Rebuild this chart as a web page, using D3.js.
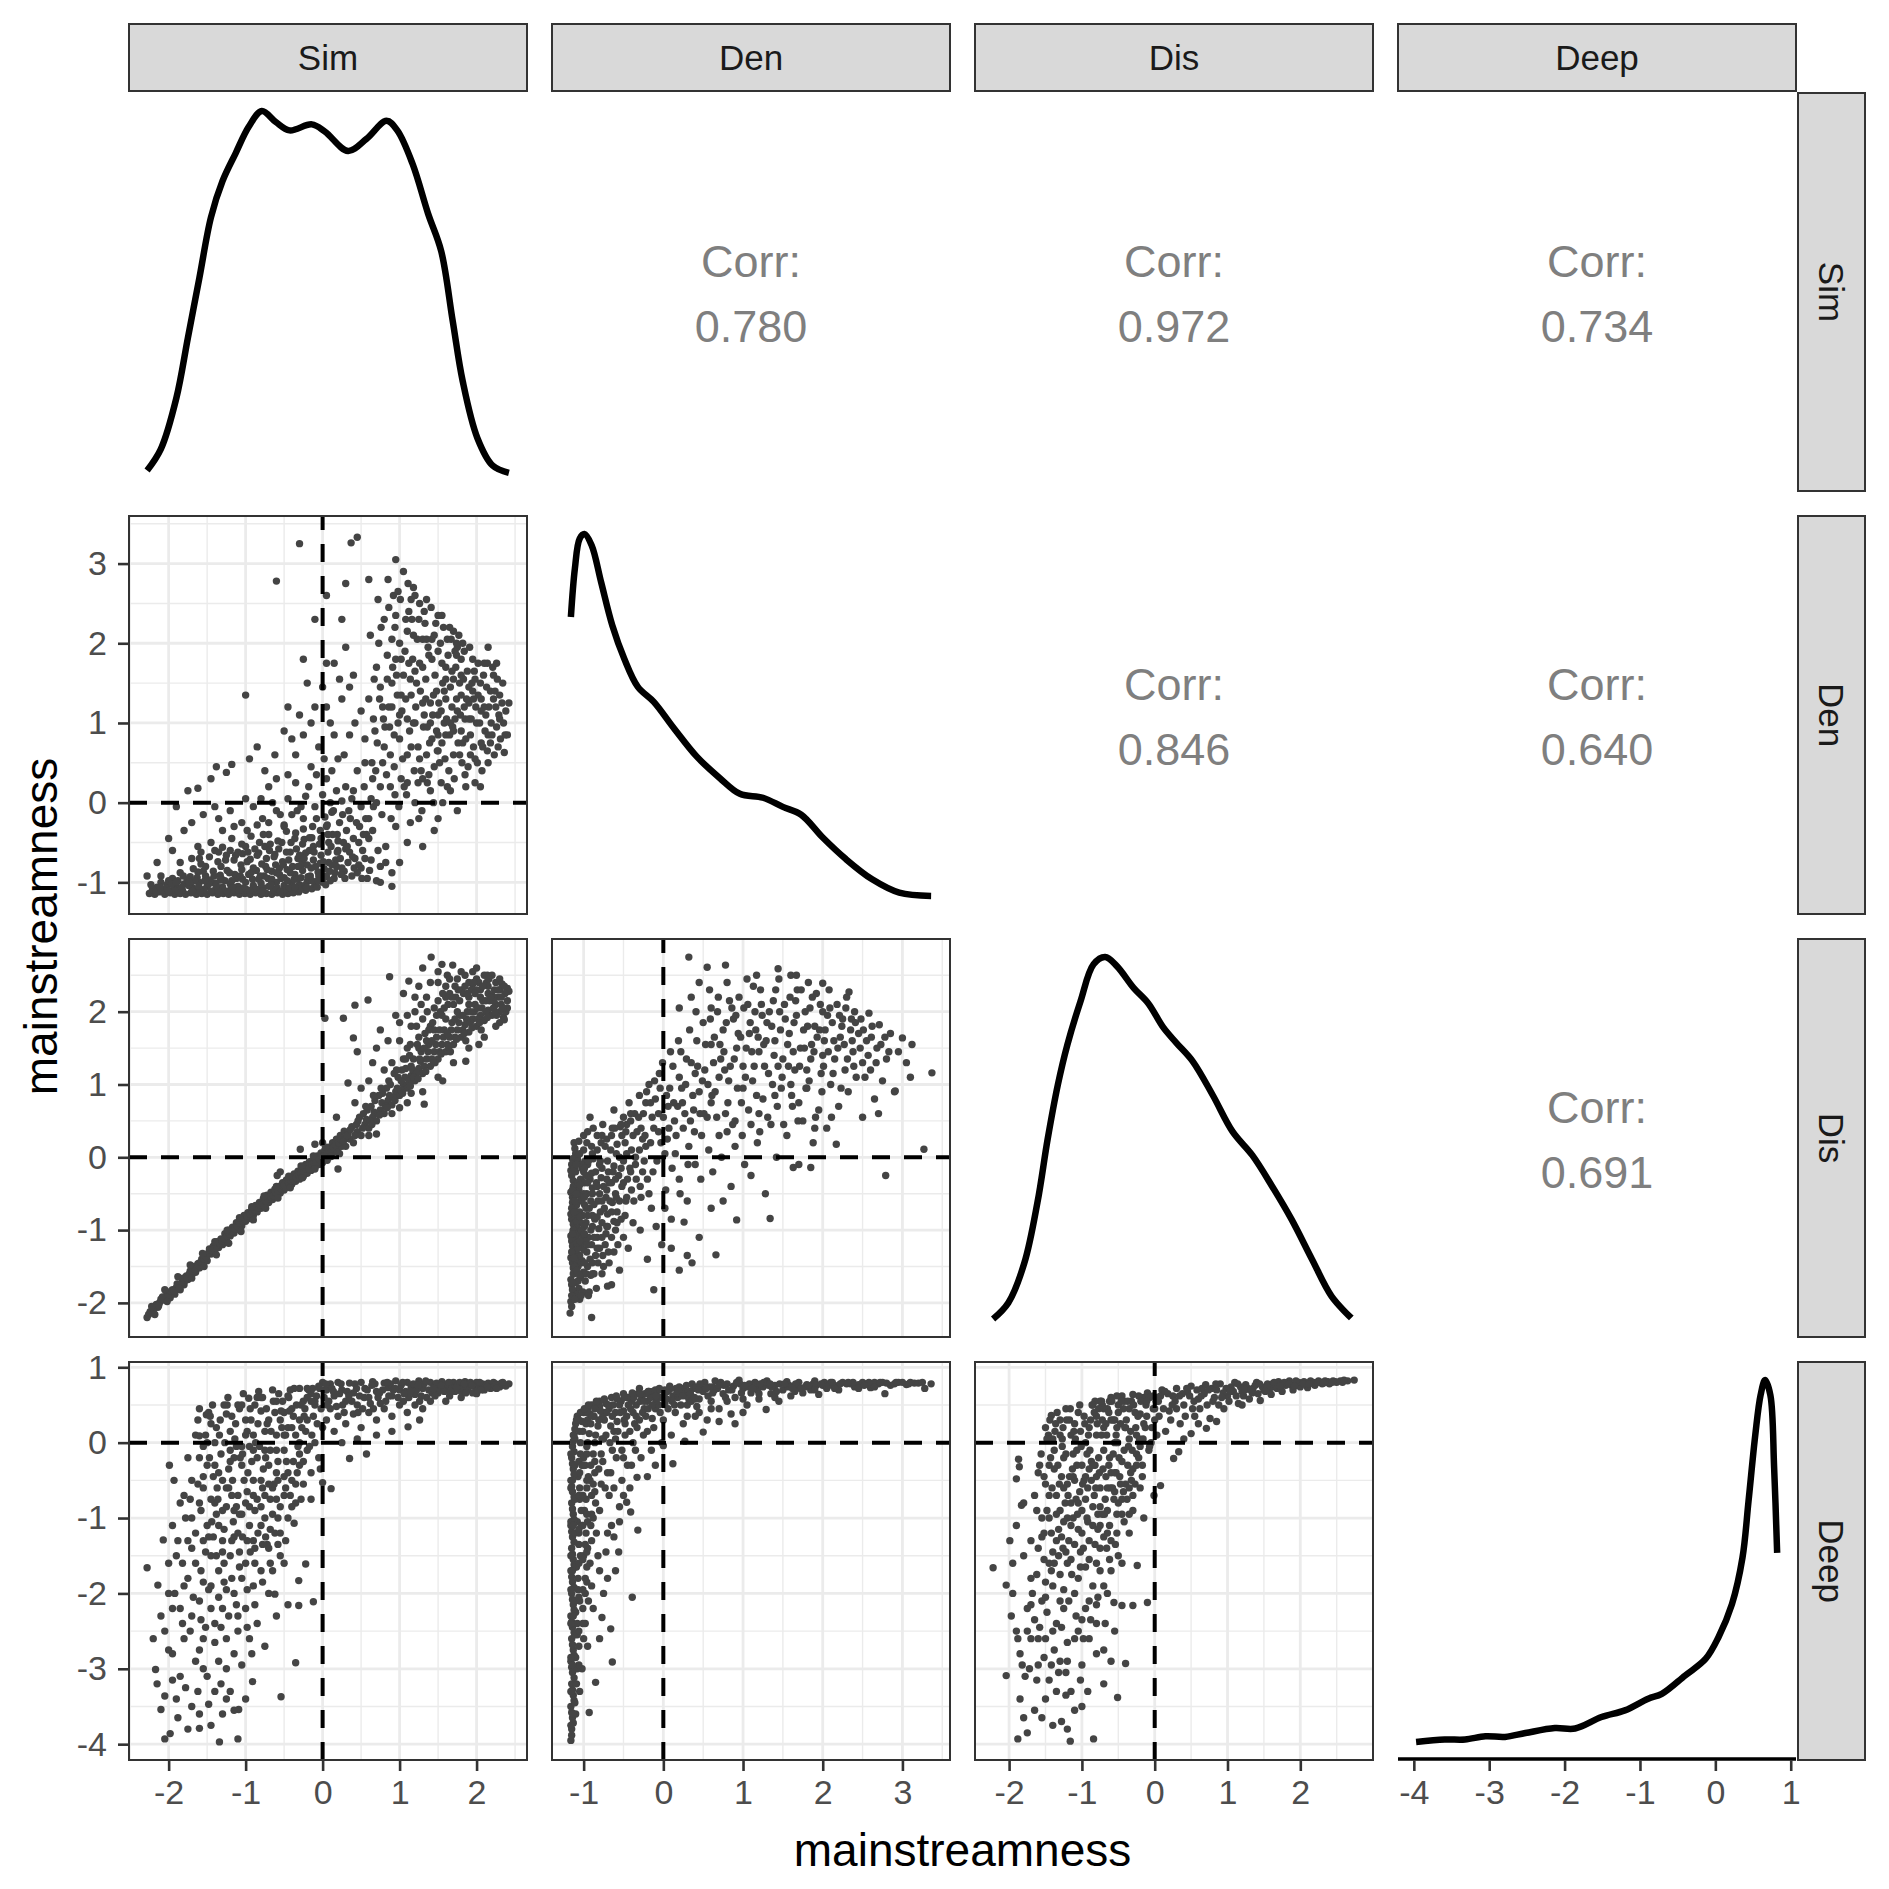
<!DOCTYPE html>
<html>
<head>
<meta charset="utf-8">
<script src="https://cdn.jsdelivr.net/npm/d3@7"></script>
<style>
body { margin: 0; background: #fff; }
</style>
</head>
<body>
<script>
// variables of the pairs matrix
var vars = ["Sim", "Den", "Dis", "Deep"];

// upper triangle: row, column, correlation
var corrRow = [0, 0, 0, 1, 1, 2];
var corrCol = [1, 2, 3, 2, 3, 3];
var corrVal = [0.780, 0.972, 0.734, 0.846, 0.640, 0.691];

// diagonal densities, [value, density]
var densSim = [[-2.28,0.004],[-2.10,0.022],[-1.90,0.064],[-1.75,0.114],[-1.60,0.164],[-1.45,0.214],[-1.30,0.244],[-1.13,0.267],[-0.96,0.289],[-0.79,0.302],[-0.61,0.293],[-0.43,0.286],[-0.14,0.291],[0.03,0.285],[0.33,0.269],[0.57,0.279],[0.83,0.294],[0.97,0.286],[1.17,0.258],[1.37,0.217],[1.54,0.186],[1.69,0.128],[1.82,0.078],[2.01,0.031],[2.21,0.008],[2.42,0.002]];
var densDen = [[-1.16,0.432],[-1.11,0.506],[-1.05,0.552],[-0.99,0.559],[-0.90,0.542],[-0.78,0.485],[-0.64,0.419],[-0.49,0.368],[-0.32,0.325],[-0.12,0.302],[0.13,0.262],[0.42,0.218],[0.71,0.185],[0.96,0.161],[1.25,0.155],[1.50,0.141],[1.73,0.129],[2.00,0.094],[2.29,0.061],[2.62,0.030],[2.96,0.0096],[3.36,0.0046]];
var densDis = [[-2.22,0.004],[-2.01,0.022],[-1.79,0.066],[-1.61,0.133],[-1.47,0.203],[-1.33,0.263],[-1.20,0.307],[-1.02,0.355],[-0.84,0.396],[-0.68,0.404],[-0.52,0.394],[-0.29,0.370],[-0.09,0.353],[0.12,0.326],[0.30,0.309],[0.52,0.289],[0.80,0.251],[1.07,0.211],[1.34,0.185],[1.61,0.151],[1.88,0.114],[2.16,0.070],[2.43,0.029],[2.70,0.005]];
var densDeep = [[-3.97,0.014],[-3.59,0.024],[-3.32,0.024],[-3.05,0.0375],[-2.79,0.035],[-2.52,0.051],[-2.13,0.072],[-1.86,0.070],[-1.51,0.118],[-1.20,0.146],[-0.89,0.195],[-0.71,0.215],[-0.40,0.292],[-0.13,0.361],[0.04,0.451],[0.22,0.590],[0.36,0.785],[0.44,1.021],[0.53,1.299],[0.60,1.465],[0.66,1.528],[0.73,1.465],[0.78,1.160],[0.82,0.805]];

// scatter panels, "x y" pairs (x = column variable, y = row variable)
var simDen = `-2.28 -0.92, -2.25 -1.14, -2.18 -1.15, -2.12 -1.12, -2.05 -1.15, -1.98 -1.13, -1.92 -1.15, -1.85 -1.14, -1.78 -1.15, -1.71 -1.13, -1.64 -1.15, -1.57 -1.14, -1.5 -1.15, -1.43 -1.13, -1.36 -1.15, -1.29 -1.14, -1.22 -1.15, -1.15 -1.13, -1.08 -1.15, -1.01 -1.14, -0.94 -1.15, -0.87 -1.13, -0.8 -1.15, -0.73 -1.14, -0.66 -1.15, -0.59 -1.13, -0.52 -1.15, -0.45 -1.14, -0.38 -1.13, -0.31 -1.12, -0.22 -1.1, -0.14 -1.08,
-2.15 -1.06, -2.02 -1.03, -1.9 -1.07, -1.8 -1.02, -1.7 -1.06, -1.6 -1.0, -1.5 -1.05, -1.4 -1.01, -1.3 -1.06, -1.2 -1.02, -1.1 -1.05, -1.0 -1.0, -0.9 -1.04, -0.8 -1.01, -0.7 -1.05, -0.6 -1.0, -0.5 -1.04, -0.4 -1.01, -0.3 -1.03, -0.2 -0.99, -0.1 -1.02, 0.0 -1.0,
-2.1 -0.92, -1.95 -0.95, -1.85 -0.88, -1.72 -0.93, -1.62 -0.87, -1.52 -0.92, -1.42 -0.86, -1.33 -0.91, -1.24 -0.85, -1.14 -0.9, -1.05 -0.84, -0.96 -0.9, -0.86 -0.85, -0.76 -0.92, -0.66 -0.86, -0.56 -0.9, -0.46 -0.84, -0.36 -0.9, -0.26 -0.85, -0.16 -0.92, -0.06 -0.87, 0.05 -0.93, 0.15 -0.95,
-1.85 -0.75, -1.7 -0.7, -1.58 -0.77, -1.47 -0.68, -1.36 -0.74, -1.25 -0.66, -1.15 -0.72, -1.04 -0.64, -0.94 -0.71, -0.83 -0.63, -0.73 -0.7, -0.62 -0.65, -0.52 -0.74, -0.42 -0.62, -0.32 -0.7, -0.22 -0.63, -0.12 -0.72, -0.02 -0.66, 0.08 -0.75, 0.18 -0.8, 0.28 -0.86, 0.38 -0.92,
-1.62 -0.55, -1.45 -0.5, -1.3 -0.56, -1.18 -0.45, -1.05 -0.52, -0.93 -0.42, -0.82 -0.5, -0.7 -0.4, -0.58 -0.48, -0.47 -0.36, -0.36 -0.45, -0.25 -0.33, -0.14 -0.44, -0.03 -0.35, 0.08 -0.5, 0.19 -0.4, 0.3 -0.58, 0.42 -0.7, 0.5 -0.82, 0.58 -0.95, 0.7 -0.98,
-1.55 -0.15, -1.35 -0.2, -1.2 -0.1, -1.05 -0.25, -0.9 -0.05, -0.78 -0.2, -0.65 0.0, -0.55 -0.15, -0.45 0.05, -0.33 -0.1, -0.22 0.08, -0.1 -0.05, 0.0 0.1, 0.12 -0.12, 0.25 0.02, 0.36 -0.2, 0.48 -0.3, 0.6 -0.45, 0.72 -0.6, 0.82 -0.75, 0.9 -0.88,
-1.9 -0.05, -1.75 0.15, -1.62 0.18, -1.45 0.3, -1.38 0.45, -1.25 0.38, -1.18 0.48, -1.0 1.35, -2.0 -0.45, -2.15 -0.75, -1.95 -0.6, -1.8 -0.35, -0.95 0.55, -0.85 0.7, -0.75 0.4, -0.62 0.6,
-0.45 0.35, -0.35 0.6, -0.25 0.85, -0.15 0.45, -0.05 0.7, 0.05 0.3, 0.1 1.0, 0.2 0.55, 0.25 1.3, 0.3 0.2, 0.35 0.85, 0.4 1.6, 0.45 0.4, 0.5 1.15, 0.5 -0.05, -0.1 1.2, -0.2 1.5, 0.0 1.45, 0.15 1.75, 0.3 1.95, -0.3 1.1, -0.5 0.9, 0.05 -0.3, 0.2 -0.6,
0.55 0.5, 0.6 1.3, 0.62 2.1, 0.65 -0.35, 0.68 0.9, 0.7 1.7, 0.72 2.55, 0.75 0.2, 0.78 1.2, 0.8 2.3, 0.82 -0.55, 0.85 2.8, 0.6 2.8, 0.55 -0.7, 0.75 -0.8,
0.88 0.6, 0.9 1.5, 0.92 2.6, 0.95 -0.3, 0.98 1.0, 1.0 2.0, 1.02 0.3, 1.05 2.9, 1.08 1.3, 1.1 -0.5, 1.12 2.4, 1.15 0.7, 1.17 1.8, 1.2 0.0, 0.95 3.05, 1.0 -0.75, 1.18 2.7, 1.1 1.05,
1.22 1.5, 1.25 2.3, 1.28 0.4, 1.3 -0.55, 1.32 1.1, 1.35 2.55, 1.38 1.85, 1.4 0.15, 1.42 0.8, 1.45 2.1, 1.48 1.4, 1.5 -0.2, 1.52 0.5, 1.55 2.35, 1.58 1.0, 1.6 1.7, 1.25 -0.2, 1.45 -0.35,
1.62 0.2, 1.65 2.2, 1.68 1.2, 1.7 0.6, 1.72 1.9, 1.75 -0.1, 1.78 1.5, 1.8 0.9, 1.82 2.0, 1.85 0.35, 1.88 1.65, 1.9 1.25, 1.92 0.6, 1.95 1.8, 1.98 0.25, 2.0 1.0, 1.7 2.15, 1.85 1.05,
2.05 1.5, 2.08 0.7, 2.1 1.75, 2.12 1.1, 2.15 0.5, 2.18 1.4, 2.2 0.85, 2.22 1.6, 2.25 1.2, 2.28 0.7, 2.3 1.35, 2.35 1.0, 2.42 1.25, 2.36 0.63, 2.05 0.2, 2.15 1.95,
0.9 1.2, 1.0 0.8, 1.05 1.6, 1.15 1.35, 1.2 1.0, 1.3 1.7, 1.35 0.6, 1.4 1.25, 1.5 1.9, 1.55 0.75, 1.6 1.3, 1.65 0.85, 1.75 1.15, 1.8 1.8, 1.5 1.1, 1.3 2.05, 1.1 2.15, 0.95 1.8, 1.7 1.55, 1.45 0.45,
-0.3 3.25, 0.45 3.33, 0.37 3.26, -0.6 2.78, 0.05 2.6, 0.3 2.75, 0.25 2.3, -0.25 1.8, -0.1 2.3, -0.45 1.2, 0.75 -1.0, 0.9 -1.05,
-2.21 -1.09, -2.07 -1.1, -1.94 -1.09, -1.82 -1.1, -1.76 -0.97, -1.67 -1.1, -1.63 -0.94, -1.54 -1.09, -1.46 -0.97, -1.39 -1.09, -1.32 -0.8, -1.27 -0.98, -1.19 -1.09, -1.12 -0.95, -1.06 -0.78, -0.99 -1.09, -0.97 -0.62, -0.91 -0.96, -0.84 -1.09, -0.79 -0.77, -0.75 -0.55, -0.71 -0.95, -0.64 -1.09, -0.61 -0.78, -0.57 -0.58, -0.54 -0.95, -0.49 -1.09, -0.44 -0.72, -0.41 -0.5, -0.37 -0.96, -0.34 -0.58, -0.29 -1.09, -0.27 -0.77, -0.24 -0.46, -0.19 -0.93, -0.17 -0.6, -0.13 -0.3, -0.09 -0.8, -0.07 -1.06, -0.04 -0.52, 0.02 -0.83, 0.03 -0.18, 0.07 -0.62, 0.1 -0.98, 0.13 -0.4, 0.17 -0.72, 0.22 -0.25, 0.24 -0.9, 0.27 -0.5, 0.33 -0.75, 0.34 -0.1, 0.4 -0.45, 0.45 -0.88, 0.52 -0.6, 0.56 -0.2, 0.63 -0.72, 0.66 -0.05, -1.68 -0.83, -1.52 -0.8, -1.4 -0.6, -1.1 -0.62, -0.88 -0.58, -2.0 -0.98, -1.88 -0.98, -2.1 -1.0, -1.58 -0.62, -1.2 -0.6, -0.68 -0.52,
-1.3 -0.35, -1.15 -0.3, -0.98 -0.35, -0.85 -0.28, -0.7 -0.25, -0.6 -0.1, -0.5 -0.28, -0.4 -0.15, -0.28 -0.05, -0.18 0.2, -0.08 0.35, 0.02 0.55, 0.12 0.4, 0.18 0.15, 0.28 0.6, 0.4 0.15, 0.42 1.0, 0.55 0.8, 0.65 0.3, 0.6 -0.2, -0.35 0.25, -0.6 0.3, -0.4 0.8, -0.15 1.0, 0.05 1.2, 0.15 0.85, 0.35 1.45, 0.22 1.55, 0.05 1.75, -0.7 0.2, -1.0 0.05, -1.4 -0.05, -1.7 -0.25, -0.8 0.05,
0.63 0.05, 0.67 1.55, 0.71 0.75, 0.73 2.0, 0.77 -0.15, 0.79 1.05, 0.83 0.35, 0.84 1.85, 0.86 2.45, 0.87 0.95, 0.89 -0.2, 0.91 1.7, 0.93 0.45, 0.94 2.2, 0.97 1.35, 0.99 -0.05, 1.01 2.55, 1.03 1.15, 1.04 0.55, 1.07 1.9, 1.09 0.1, 1.11 2.75, 1.13 0.9, 1.14 1.55, 1.16 2.3, 1.19 0.4, 1.21 1.2, 1.23 2.05, 1.24 0.7, 1.26 2.5, 1.27 1.4, 1.29 -0.1, 1.31 0.95, 1.33 2.25, 1.34 1.55, 1.36 0.25, 1.37 1.95, 1.39 0.75, 1.41 2.45, 1.43 1.1, 1.44 0.0, 1.46 1.6, 1.47 2.25, 1.49 0.65, 1.51 1.25, 1.53 2.0, 1.54 0.25, 1.56 1.5, 1.57 2.2, 1.59 0.55, 1.61 1.05, 1.63 1.85, 1.64 0.4, 1.66 1.45, 1.67 2.05, 1.69 0.95, 1.71 0.3, 1.73 1.7, 1.74 1.3, 1.76 0.75, 1.77 2.1, 1.79 1.1, 1.81 0.5, 1.83 1.55, 1.84 1.9, 1.86 0.8, 1.87 1.3, 1.89 0.45, 1.91 1.95, 1.93 1.05, 1.94 1.5, 1.96 0.7, 1.97 1.65, 1.99 1.2, 2.01 0.5, 2.02 1.75, 2.04 1.0, 2.06 1.3, 2.07 0.4, 2.09 1.6, 2.11 0.9, 2.13 1.45, 2.14 0.65, 2.16 1.2, 2.19 1.0, 2.21 1.7, 2.23 0.6, 2.24 1.4, 2.26 0.95, 2.27 1.55, 2.29 1.1, 2.31 0.8, 2.33 1.25, 2.38 1.15, 2.4 0.85, 1.0 1.1, 1.2 1.65, 1.4 1.0, 1.6 1.55, 1.8 1.35, 0.8 0.7, 1.1 0.6, 1.3 0.3, 1.5 0.85, 1.7 0.9, 0.75 1.45, 0.95 2.35, 1.15 2.55, 1.35 2.05, 1.55 1.75, 1.75 1.95, 1.95 1.4, 2.15 0.85,
-2.16 -1.12, -2.03 -1.07, -1.96 -1.02, -1.87 -1.11, -1.81 -0.92, -1.74 -1.04, -1.66 -0.98, -1.59 -1.11, -1.55 -0.86, -1.48 -1.02, -1.41 -0.92, -1.35 -1.11, -1.31 -0.96, -1.26 -0.72, -1.21 -0.88, -1.16 -1.06, -1.13 -0.66, -1.07 -0.92, -1.03 -1.07, -0.98 -0.74, -0.93 -0.88, -0.89 -1.07, -0.85 -0.66, -0.81 -0.92, -0.77 -1.07, -0.74 -0.8, -0.69 -0.6, -0.66 -0.96, -0.63 -0.68, -0.59 -1.07, -0.56 -0.82, -0.53 -0.5, -0.5 -0.94, -0.47 -0.62, -0.43 -1.07, -0.39 -0.8, -0.35 -0.38, -0.33 -0.96, -0.3 -0.66, -0.26 -0.52, -0.23 -1.04, -0.2 -0.78, -0.17 -0.44, -0.14 -0.98, -0.11 -0.62, -0.08 -0.2, -0.05 -0.92, -0.02 -0.45, 0.01 -0.74, 0.04 -1.03, 0.06 -0.28, 0.09 -0.86, 0.11 -0.55, 0.14 -0.1, 0.16 -0.88, 0.2 -0.48, 0.23 -0.7, 0.26 -0.15, 0.29 -0.95, 0.31 -0.35, 0.35 -0.62, 0.38 0.05, 0.41 -0.82, 0.44 -0.25, 0.47 -0.5, 0.51 -0.95, 0.54 0.2, 0.57 -0.4, 0.61 -0.85, 0.64 0.5,
0.66 1.05, 0.69 0.4, 0.74 1.3, 0.76 2.2, 0.81 0.95, 0.84 1.55, 0.88 0.2, 0.9 2.05, 0.93 0.85, 0.96 1.6, 0.98 2.65, 1.02 1.35, 1.06 0.2, 1.08 2.3, 1.12 1.75, 1.14 -0.25, 1.18 1.0, 1.2 2.6, 1.24 0.25, 1.26 1.75, 1.3 1.25, 1.32 2.4, 1.36 0.95, 1.38 0.35, 1.42 2.05, 1.44 1.35, 1.48 0.9, 1.5 2.35, 1.54 1.15, 1.56 0.0, 1.6 0.85, 1.62 2.05, 1.66 0.15, 1.68 1.65, 1.72 1.05, 1.74 2.0, 1.78 0.6, 1.8 1.6, 1.84 1.2, 1.86 0.2, 1.9 1.45, 1.92 0.85, 1.96 1.3, 1.98 0.55, 2.02 1.35, 2.06 0.75, 2.1 1.2, 2.14 1.75, 2.18 0.75, 2.22 1.3, 2.26 1.75, 2.3 1.05, 2.34 1.5, 2.37 0.85, 0.7 0.0, 0.78 0.5, 0.86 1.2, 0.94 0.1, 1.02 1.8, 1.1 0.25, 1.18 2.1, 1.26 0.55, 1.34 1.3, 1.42 1.8, 1.5 0.65, 1.58 1.4, 1.66 1.0, 1.74 1.85, 1.82 0.75, 1.9 1.05, 1.98 1.55, 2.06 1.15,
-2.23 -1.03, -2.11 -1.06, -2.0 -1.11, -1.9 -1.0, -1.83 -1.06, -1.73 -1.0, -1.69 -1.11, -1.61 -1.05, -1.53 -0.98, -1.45 -1.11, -1.38 -1.04, -1.33 -0.97, -1.24 -1.11, -1.18 -0.98, -1.09 -1.1, -1.04 -0.96, -0.95 -1.1, -0.9 -0.82, -0.83 -0.96, -0.78 -1.11, -0.72 -0.84, -0.67 -1.03, -0.6 -0.88, -0.55 -1.11, -0.51 -0.78, -0.46 -0.98, -0.42 -0.88, -0.36 -1.06, -0.32 -0.8, -0.28 -0.94, -0.24 -0.7, -0.21 -1.06, -0.15 -0.82, -0.12 -0.55, -0.06 -0.98, -0.03 -0.76, 0.03 -0.92, 0.07 -0.4, 0.12 -0.78, 0.19 -0.62, 0.25 -0.82, 0.32 -0.55, 0.39 -0.68, 0.47 -0.78, 0.53 -0.4, -1.6 -0.7, -1.35 -0.62, -1.0 -0.55, -0.77 -0.4, -0.5 -0.3, -0.25 -0.2, 0.1 0.0`;

var simDis = `-2.28 -2.2, -2.24 -2.12, -2.2 -2.1, -2.16 -2.02, -2.12 -2.0, -2.1 -1.95, -2.06 -1.96, -2.03 -1.9, -2.0 -1.86, -1.98 -1.93, -1.95 -1.82, -1.92 -1.88, -1.9 -1.79, -1.87 -1.75, -1.85 -1.82, -1.82 -1.7, -1.8 -1.75, -1.77 -1.63, -1.75 -1.68, -1.72 -1.56, -1.7 -1.62, -1.67 -1.5, -1.65 -1.58, -1.62 -1.46, -1.6 -1.52, -1.57 -1.4, -1.55 -1.46, -1.52 -1.35, -1.5 -1.42, -1.47 -1.26, -1.45 -1.33, -1.42 -1.22, -1.4 -1.3, -1.37 -1.16, -1.35 -1.24, -1.32 -1.12, -1.3 -1.2, -1.27 -1.05, -1.25 -1.14, -1.22 -1.0, -1.2 -1.08, -1.17 -0.96, -1.15 -1.04, -1.12 -0.9, -1.1 -0.99, -1.07 -0.85, -1.05 -0.94, -1.02 -0.8, -1.0 -0.88, -0.97 -0.76, -0.95 -0.84, -0.92 -0.71, -0.9 -0.8, -0.87 -0.66, -0.85 -0.75, -0.82 -0.62, -0.8 -0.7, -0.77 -0.57, -0.75 -0.66, -0.72 -0.52, -0.7 -0.62, -0.67 -0.48, -0.65 -0.58, -0.62 -0.44, -0.6 -0.53, -0.57 -0.4, -0.55 -0.49, -0.52 -0.35, -0.5 -0.45, -0.47 -0.31, -0.45 -0.41, -0.42 -0.27, -0.4 -0.37, -0.37 -0.23, -0.35 -0.33, -0.32 -0.19, -0.3 -0.3, -0.27 -0.14, -0.25 -0.26, -0.22 -0.1, -0.2 -0.22, -0.17 -0.06, -0.15 -0.18, -0.12 -0.03, -0.1 -0.14, -0.07 0.02, -0.05 -0.1, -0.02 0.06, 0.0 -0.07, 0.03 0.1, 0.05 -0.02, 0.08 0.14, 0.1 0.04, 0.13 0.2, 0.15 0.08, 0.18 0.25, 0.2 0.12, 0.23 0.3, 0.25 0.15, 0.28 0.36,
-2.14 -2.06, -1.96 -1.87, -1.78 -1.69, -1.6 -1.45, -1.43 -1.27, -1.26 -1.1, -1.09 -0.93, -0.93 -0.77, -0.78 -0.62, -0.63 -0.49, -0.48 -0.37, -0.33 -0.26, -0.18 -0.12, -0.03 -0.01, 0.12 0.12,
-0.29 0.11, -0.1 0.18, -0.59 -0.25, 0.2 -0.16, -0.55 -0.2, 0.0 0.2,
0.3 0.15, 0.35 0.25, 0.4 0.2, 0.45 0.35, 0.5 0.3, 0.55 0.45, 0.6 0.4, 0.65 0.55, 0.7 0.5, 0.75 0.65, 0.8 0.6, 0.85 0.78, 0.9 0.72, 0.95 0.9, 1.0 0.85, 1.05 1.0, 1.1 0.95, 1.15 1.12, 1.2 1.05, 1.25 1.22, 1.3 1.15, 1.35 1.35, 1.4 1.25, 1.45 1.45, 1.5 1.35, 1.55 1.55, 1.6 1.45, 1.65 1.65, 1.7 1.55, 1.75 1.75, 1.8 1.65, 1.85 1.82, 1.9 1.72, 1.95 1.9, 2.0 1.8, 2.05 1.95, 2.1 1.88, 2.15 2.02, 2.2 1.95, 2.25 2.1, 2.3 2.0, 2.35 1.92, 2.4 2.15,
0.38 0.42, 0.48 0.55, 0.58 0.65, 0.68 0.78, 0.78 0.88, 0.88 1.0, 0.98 1.1, 1.08 1.22, 1.18 1.35, 1.28 1.45, 1.38 1.55, 1.48 1.65, 1.58 1.75, 1.68 1.85, 1.78 1.95, 1.88 2.0, 1.98 2.1, 2.08 2.15,
1.3 0.9, 1.5 1.1, 1.7 1.3, 1.9 1.5, 2.1 1.65, 2.3 1.85, 1.1 0.75, 0.9 0.6, 0.6 0.3,
0.9 1.3, 1.0 1.6, 1.1 1.5, 1.15 1.8, 1.2 2.0, 1.25 1.65, 1.3 1.9, 1.35 2.2, 1.4 1.8, 1.45 2.05, 1.5 2.4, 1.55 1.95, 1.6 2.2, 1.62 2.5, 1.7 2.1, 1.72 2.35, 1.8 2.3, 1.85 2.5, 1.9 2.2, 1.95 2.38, 2.0 2.45, 2.05 2.3, 2.1 2.5, 2.15 2.35, 2.2 2.22, 2.25 2.4, 2.3 2.3, 2.4 2.32, 2.42 2.28, 1.3 2.6, 1.41 2.75, 1.12 2.42, 0.87 2.48, 0.95 1.95, 1.05 2.25, 1.25 2.35, 1.69 2.64, 1.55 2.65, 2.0 2.6, 2.14 2.5,
0.7 1.5, 0.8 1.2, 0.6 1.05, 0.59 2.16, 0.42 2.09, 0.27 1.91, 0.03 1.91, 0.4 1.64, 0.45 1.45, 0.33 1.02, 0.5 0.95, 0.65 1.3, 0.75 1.75, 0.85 1.6, 0.18 0.55, 0.42 0.75, 1.32 0.73, 1.0 0.68, 0.7 0.32, 1.56 1.05, 1.86 1.32, 2.03 1.55, 2.36 1.89, 1.15 0.88,
1.6 1.9, 1.75 2.0, 1.9 2.1, 2.05 2.2, 1.45 1.75, 1.65 2.25, 1.85 2.35, 2.15 2.25, 2.25 1.8, 1.35 1.6, 1.25 1.5, 1.5 2.15, 1.95 2.55, 2.3 2.45, 1.15 1.25, 1.05 1.35,
-2.26 -2.16, -2.19 -2.06, -2.13 -2.04, -2.08 -1.92, -2.01 -1.92, -1.97 -1.84, -1.93 -1.84, -1.89 -1.74, -1.84 -1.74, -1.81 -1.66, -1.76 -1.66, -1.73 -1.6, -1.69 -1.56, -1.66 -1.54, -1.61 -1.49, -1.58 -1.44, -1.54 -1.4, -1.51 -1.37, -1.48 -1.31, -1.44 -1.28, -1.41 -1.25, -1.38 -1.21, -1.34 -1.18, -1.31 -1.15, -1.28 -1.12, -1.24 -1.08, -1.21 -1.05, -1.18 -1.02, -1.14 -0.98, -1.11 -0.95, -1.08 -0.9, -1.04 -0.87, -1.01 -0.85, -0.98 -0.81, -0.94 -0.78, -0.91 -0.75, -0.88 -0.72, -0.84 -0.69, -0.81 -0.66, -0.78 -0.64, -0.74 -0.6, -0.71 -0.57, -0.68 -0.54, -0.64 -0.52, -0.61 -0.48, -0.58 -0.46, -0.54 -0.43, -0.51 -0.4, -0.48 -0.41, -0.44 -0.35, -0.41 -0.32, -0.38 -0.3, -0.34 -0.28, -0.31 -0.24, -0.28 -0.22, -0.24 -0.2, -0.21 -0.16, -0.18 -0.16, -0.14 -0.1, -0.11 -0.08, -0.08 -0.07, -0.04 -0.03, -0.01 0.01, 0.02 0.02, 0.06 0.06, 0.09 0.09, 0.11 0.01, 0.14 0.14, 0.17 0.17, 0.21 0.2, 0.24 0.24, 0.27 0.22, 0.31 0.28, 0.33 0.33,
0.32 0.3, 0.36 0.38, 0.42 0.3, 0.44 0.45, 0.52 0.4, 0.53 0.6, 0.57 0.52, 0.62 0.5, 0.63 0.7, 0.67 0.62, 0.72 0.6, 0.73 0.85, 0.77 0.75, 0.82 0.7, 0.83 0.95, 0.87 0.85, 0.92 0.82, 0.93 1.15, 0.97 0.95, 1.02 0.92, 1.03 1.2, 1.07 1.1, 1.12 1.05, 1.13 1.4, 1.17 1.2, 1.22 1.15, 1.23 1.55, 1.27 1.32, 1.32 1.25, 1.33 1.7, 1.37 1.45, 1.42 1.35, 1.43 1.85, 1.47 1.55, 1.52 1.45, 1.53 2.0, 1.57 1.65, 1.62 1.55, 1.63 2.1, 1.67 1.75, 1.72 1.65, 1.73 2.2, 1.77 1.85, 1.82 1.75, 1.83 2.25, 1.87 1.9, 1.92 1.85, 1.93 2.3, 1.97 2.0, 2.02 1.9, 2.03 2.4, 2.07 2.05, 2.12 2.0, 2.13 2.4, 2.17 2.15, 2.22 2.05, 2.23 2.3, 2.27 2.2, 2.32 2.1, 2.33 2.38, 2.38 2.0, 2.37 2.25, 1.4 2.4, 1.5 2.55, 1.6 2.35, 1.75 2.45, 1.9 2.4, 2.0 2.3, 1.2 2.2, 1.1 1.95, 1.0 1.85, 1.28 2.1, 1.65 2.45, 1.8 2.55, 2.2 2.5,
1.02 1.05, 1.08 1.35, 1.14 1.55, 1.18 1.1, 1.22 1.8, 1.26 1.35, 1.32 1.5, 1.36 2.0, 1.42 1.6, 1.46 1.3, 1.52 1.75, 1.56 2.25, 1.62 1.7, 1.66 1.45, 1.72 1.9, 1.76 2.3, 1.82 1.95, 1.86 1.6, 1.92 2.0, 1.96 2.4, 2.02 2.05, 2.06 1.75, 2.12 2.15, 2.16 2.45, 2.22 2.15, 2.26 1.95, 2.32 2.2, 2.36 2.35, 2.4 2.05, 1.58 2.05, 1.68 2.2, 1.78 2.15, 1.88 2.25, 1.98 2.25, 2.08 2.35, 2.18 2.2, 2.28 2.3, 1.48 1.95, 1.38 1.75, 0.96 1.2, 0.86 1.05, 0.76 0.95, 0.66 0.85, 0.56 0.7, 0.46 0.5, 0.64 0.45, 0.74 0.58, 0.84 0.68, 0.94 0.78, 1.04 0.88, 1.14 0.98, 1.24 1.08, 1.34 1.18, 1.44 1.3, 1.54 1.42, 1.64 1.52, 1.74 1.62, 1.84 1.7, 1.94 1.78, 2.04 1.85, 2.14 1.92, 2.24 2.0, 2.34 2.05,
-2.22 -2.05, -2.05 -1.82, -1.88 -1.64, -1.72 -1.48, -1.56 -1.32, -1.4 -1.16, -1.24 -1.0, -1.08 -0.83, -0.92 -0.68, -0.76 -0.53, -0.6 -0.4, -0.44 -0.26, -0.28 -0.12, -0.12 0.02, 0.04 0.14, -2.18 -2.16, -2.02 -1.98, -1.86 -1.8, -1.7 -1.66, -1.54 -1.5, -1.38 -1.34, -1.22 -1.18, -1.06 -1.02, -0.9 -0.86, -0.74 -0.7, -0.58 -0.56, -0.42 -0.42, -0.26 -0.28, -0.1 -0.16, 0.06 -0.04, 0.22 0.05`;

var denDis = `-1.15 -2.05, -1.13 -1.9, -1.15 -1.75, -1.12 -1.6, -1.14 -1.45, -1.12 -1.3, -1.15 -1.15, -1.13 -1.0, -1.15 -0.85, -1.12 -0.7, -1.14 -0.55, -1.12 -0.4, -1.15 -0.25, -1.13 -0.1, -1.1 0.05, -1.12 0.2, -1.08 0.0, -1.05 -1.95, -1.06 -1.8, -1.04 -1.65, -1.07 -1.5, -1.05 -1.35, -1.03 -1.2, -1.06 -1.05, -1.04 -0.9, -1.05 -0.75, -1.03 -0.6, -1.06 -0.45, -1.04 -0.3, -1.02 -0.15, -1.0 0.1, -1.0 0.3, -0.98 -1.7, -0.95 -1.5, -0.96 -1.3, -0.94 -1.1, -0.97 -0.9, -0.93 -0.7, -0.96 -0.5, -0.92 -0.3, -0.95 -0.1, -0.9 0.15, -0.88 0.4, -0.92 0.55, -0.9 -2.2, -1.17 -2.14,
-0.87 -1.6, -0.85 -1.35, -0.83 -1.1, -0.86 -0.85, -0.82 -0.6, -0.84 -0.35, -0.8 -0.1, -0.78 0.2, -0.76 0.45, -0.75 -1.5, -0.73 -1.2, -0.7 -0.95, -0.74 -0.7, -0.71 -0.45, -0.69 -0.2, -0.66 0.1, -0.64 0.4, -0.62 0.65, -0.65 -1.75, -0.62 -1.3, -0.6 -1.0, -0.58 -0.75, -0.6 -0.5, -0.56 -0.25, -0.55 0.0, -0.52 0.3, -0.5 0.55, -0.5 -1.1, -0.48 -0.8, -0.46 -0.55, -0.45 -0.3, -0.43 0.75, -0.4 0.1, -0.55 -1.55, -0.68 -1.45, -0.7 -1.77,
-0.38 -0.9, -0.35 -0.1, -0.33 0.35, -0.3 0.85, -0.28 -0.55, -0.25 0.6, -0.22 0.15, -0.2 -0.3, -0.18 1.0, -0.15 -0.7, -0.12 0.4, -0.1 0.8, -0.08 -0.05, -0.05 1.15, -0.02 -1.2, 0.0 0.55, 0.03 -0.45, 0.05 0.25, 0.08 0.95, 0.1 -0.85, 0.12 1.25, 0.15 0.05, 0.18 0.7, 0.2 -0.3, 0.22 1.45, 0.25 0.4, 0.28 1.0, 0.3 -0.6, 0.32 0.15, 0.35 1.3, 0.38 0.65, 0.4 -0.1, 0.42 1.6, 0.45 0.9, 0.48 0.3, 0.5 1.85, 0.3 -1.35, 0.36 -1.45, 0.1 -1.25, -0.2 -1.4, 0.26 -0.89, 0.45 -1.1, 0.2 -1.55, -0.12 -1.82,
0.52 1.2, 0.55 0.55, 0.58 2.3, 0.6 1.55, 0.62 -0.2, 0.65 0.9, 0.68 2.0, 0.7 0.3, 0.72 1.35, 0.75 1.75, 0.78 0.6, 0.8 2.4, 0.82 1.05, 0.85 -0.4, 0.88 1.9, 0.9 0.15, 0.92 1.5, 0.95 2.2, 0.98 0.75, 1.0 1.25, 1.02 -0.1, 1.05 2.45, 1.08 1.7, 1.1 0.45, 1.12 1.05, 1.15 2.0, 1.18 0.2, 1.2 1.45, 1.22 2.3, 1.25 0.8, 1.28 -0.5, 1.3 1.85, 1.32 1.15, 1.35 0.45, 1.38 2.15, 1.4 1.6, 1.42 0.0, 1.45 2.45, 1.48 0.95, 1.5 1.35, 0.66 -1.34, 0.92 -0.86, 1.34 -0.84, 0.6 -0.7, 0.75 -0.6, 0.55 2.61, 0.32 2.75, 0.78 2.64, 0.45 2.4, 0.35 2.2, 0.2 2.05, 0.6 2.05,
1.52 2.1, 1.55 0.3, 1.58 1.7, 1.6 2.5, 1.62 0.7, 1.65 1.2, 1.68 2.3, 1.7 -0.1, 1.72 1.5, 1.75 0.5, 1.78 2.0, 1.8 0.95, 1.82 2.4, 1.85 1.35, 1.88 0.2, 1.9 1.8, 1.92 2.25, 1.95 0.65, 1.98 1.15, 2.0 2.0, 2.02 1.6, 2.05 0.4, 2.08 2.3, 2.1 1.0, 2.12 1.85, 2.15 1.35, 2.18 2.1, 2.2 0.7, 2.22 1.65, 2.25 1.9, 2.28 1.2, 2.3 2.2, 2.32 0.9, 2.35 1.75, 2.38 1.45, 2.4 2.0, 2.42 1.1, 2.45 1.7, 2.48 1.9, 2.5 1.3, 1.63 -0.14, 1.85 -0.14, 2.17 0.18, 2.5 0.55, 1.44 2.59, 1.67 2.5, 2.0 2.39, 2.33 2.27, 1.17 2.5,
2.55 1.6, 2.58 1.98, 2.6 1.2, 2.62 1.8, 2.65 0.8, 2.68 1.5, 2.71 1.82, 2.75 1.05, 2.78 1.65, 2.8 1.35, 2.85 1.7, 2.9 0.9, 2.95 1.45, 3.0 1.64, 3.05 1.3, 3.12 1.55, 3.37 1.16, 3.27 0.11, 2.79 -0.25, 2.91 0.91, 2.7 0.6, 3.1 1.1,
-1.16 -1.98, -1.14 -1.82, -1.16 -1.68, -1.13 -1.52, -1.16 -1.38, -1.14 -1.22, -1.16 -1.08, -1.13 -0.92, -1.16 -0.78, -1.14 -0.62, -1.16 -0.48, -1.13 -0.32, -1.16 -0.18, -1.14 -0.02, -1.11 0.12, -1.09 -1.88, -1.1 -1.72, -1.08 -1.58, -1.1 -1.42, -1.09 -1.27, -1.1 -1.12, -1.08 -0.97, -1.1 -0.82, -1.09 -0.66, -1.1 -0.52, -1.08 -0.36, -1.1 -0.2, -1.07 -0.05, -1.06 0.22, -1.01 -1.85, -1.0 -1.58, -1.02 -1.42, -1.0 -1.27, -1.01 -1.1, -0.99 -0.95, -1.01 -0.8, -0.99 -0.65, -1.0 -0.5, -0.99 -0.35, -1.0 -0.2, -0.98 -0.05, -0.96 0.2, -0.93 -1.85, -0.91 -1.62, -0.92 -1.4, -0.9 -1.2, -0.91 -1.0, -0.89 -0.8, -0.91 -0.6, -0.89 -0.42, -0.9 -0.22, -0.88 -0.02, -0.84 -1.8, -0.82 -1.45, -0.8 -1.25, -0.81 -0.98, -0.79 -0.75, -0.8 -0.5, -0.78 -0.28, -0.79 -0.05, -0.76 -1.35, -0.72 -1.05, -0.7 -0.78, -0.72 -0.55, -0.68 -0.35, -0.7 -0.05, -0.65 -1.1, -0.62 -0.88, -0.64 -0.62, -0.6 -0.3, -0.62 -0.12, -0.58 0.18, -0.55 -0.6, -0.52 -0.4, -0.5 -0.05, -0.48 0.2, -0.46 0.45, -0.42 -0.15, -0.4 -0.45, -0.38 0.3, -0.36 0.6, -0.3 0.1, -0.28 0.4, -0.26 -0.2, -0.22 0.75, -0.16 0.2, -0.14 0.55, -0.06 0.35, -0.04 0.95, 0.02 0.05, 0.06 0.7, 0.14 0.5, 0.2 1.1, 0.24 0.75, 0.34 0.5, 0.4 1.15, 0.46 0.6, 0.56 1.0, 0.64 1.65, 0.7 1.1, 0.76 1.45, 0.84 1.25, 0.86 2.05, 0.94 1.7, 1.04 1.5, 1.06 2.1, 1.14 1.25, 1.16 1.75, 1.24 1.95, 1.26 1.55, 1.36 1.8, 1.44 1.25, 1.46 2.0, 1.56 1.55, 1.64 1.85, 1.66 2.15, 1.76 1.75, 1.84 2.05, 1.86 1.55, 1.96 1.75, 2.06 1.95, 2.14 1.6, 2.24 1.8, 2.36 1.9, 1.0 0.95, 1.2 0.6, 1.4 0.85, 1.6 1.0, 1.8 1.2, 2.0 1.4, 0.8 0.35, 0.6 0.75, 1.1 -0.25, 0.9 0.5, 1.7 0.75, 1.9 0.4,
-0.58 -0.9, -0.54 0.42, -0.5 -0.35, -0.46 0.05, -0.44 -1.25, -0.41 0.6, -0.37 -0.6, -0.34 -0.3, -0.31 0.55, -0.29 -1.0, -0.26 0.25, -0.24 -0.05, -0.21 0.9, -0.18 -0.5, -0.16 0.75, -0.13 -0.2, -0.11 1.05, -0.09 -0.95, -0.06 0.6, -0.03 0.2, -0.01 1.3, 0.02 -0.7, 0.04 0.85, 0.07 0.4, 0.09 1.45, 0.11 -0.15, 0.13 0.75, 0.16 0.3, 0.19 1.6, 0.21 -0.5, 0.23 0.95, 0.27 0.6, 0.29 1.35, 0.31 -0.1, 0.33 1.75, 0.37 0.85, 0.39 0.35, 0.41 2.0, 0.43 1.25, 0.47 -0.3, 0.49 1.05, 0.51 0.6, 0.53 1.55, 0.57 0.1, 0.59 1.9, 0.61 0.85, 0.63 1.3, 0.67 0.55, 0.69 2.2, 0.71 1.55, 0.73 0.0, 0.77 1.2, 0.79 1.85, 0.81 0.75, 0.83 2.15, 0.87 0.45, 0.89 1.35, 0.91 1.95, 0.93 0.95, 0.97 1.65, 0.99 0.3, 1.01 2.05, 1.03 1.1, 1.07 0.65, 1.09 1.85, 1.11 1.45, 1.13 2.35, 1.17 0.85, 1.19 1.65, 1.21 0.35, 1.23 2.1, 1.27 1.25, 1.29 1.6, 1.31 0.55, 1.33 2.0, 1.37 1.0, 1.39 1.4, 1.41 2.3, 1.43 0.7, 1.47 1.75, 1.49 1.1, 1.51 0.45, 1.53 1.9, 1.57 1.25, 1.59 2.2, 1.61 0.85, 1.63 1.45, 1.67 1.95, 1.69 0.5, 1.71 1.25, 1.73 2.3, 1.77 1.5, 1.79 0.95, 1.81 1.8, 1.83 1.05, 1.87 2.2, 1.89 1.45, 1.91 0.55, 1.93 1.65, 1.97 2.1, 1.99 0.9, 2.01 1.25, 2.03 1.75, 2.07 1.45, 2.09 2.05, 2.11 0.55, 2.13 1.15, 2.19 1.5, 2.21 1.95, 2.23 0.95, 2.27 1.55, 2.29 2.05, 2.31 1.35, 2.37 1.6, 2.39 1.25, 2.41 1.85, 2.47 1.5, 2.51 1.75, 2.53 1.1, 2.57 1.4, 2.61 1.65, 2.67 1.3, 2.73 1.55, 2.83 1.45,
-1.15 -1.9, -1.13 -1.6, -1.15 -1.3, -1.13 -1.0, -1.15 -0.7, -1.13 -0.4, -1.15 -0.1, -1.11 -1.95, -1.11 -1.5, -1.11 -1.05, -1.11 -0.6, -1.11 -0.15, -1.07 -1.7, -1.07 -1.25, -1.07 -0.8, -1.07 -0.35, -1.03 -1.9, -1.03 -1.45, -1.03 -1.0, -1.03 -0.55, -1.03 -0.1, -0.97 -1.6, -0.97 -1.15, -0.97 -0.7, -0.97 -0.25, -0.94 -1.9, -0.94 -0.05, -0.89 -1.45, -0.87 -1.1, -0.87 -0.65, -0.85 -0.2, -0.83 0.3, -0.77 -1.6, -0.77 -0.9, -0.75 -0.4, -0.73 0.15, -0.69 -1.3, -0.67 -0.6, -0.63 -0.2, -0.61 0.4, -0.57 -1.2,
-1.14 -1.72, -1.12 -1.38, -1.14 -1.05, -1.12 -0.75, -1.14 -0.45, -1.12 -0.15, -1.09 -1.55, -1.09 -1.18, -1.09 -0.88, -1.09 -0.5, -1.09 -0.1, -1.05 -1.62, -1.05 -1.15, -1.05 -0.82, -1.05 -0.38, -1.05 0.05, -0.99 -1.45, -0.99 -1.05, -0.99 -0.55, -0.99 -0.15, -0.95 -1.2, -0.95 -0.8, -0.95 -0.35, -0.95 0.35, -0.89 -1.6, -0.89 -0.95, -0.89 -0.5, -0.89 0.05, -0.83 -1.25, -0.83 -0.82, -0.83 -0.4, -0.83 0.1, -0.77 -1.1, -0.77 -0.6, -0.77 -0.15, -0.77 0.3, -0.71 -0.95, -0.71 -0.3, -0.71 0.25, -0.65 -0.75, -0.65 -0.35, -0.65 0.3, -0.59 -0.55, -0.59 0.05, -0.53 -0.85, -0.53 -0.15, -0.53 0.45, -0.47 -0.6, -0.47 0.35, -0.41 -0.2, -0.41 0.5, -0.35 0.0, -0.29 -0.4, -0.23 0.3`;

var simDeep = `0.0 0.8, 0.05 0.7, 0.1 0.78, 0.15 0.62, 0.2 0.8, 0.25 0.7, 0.3 0.55, 0.35 0.79, 0.4 0.66, 0.45 0.5, 0.5 0.8, 0.55 0.72, 0.6 0.6, 0.65 0.81, 0.7 0.68, 0.75 0.52, 0.8 0.79, 0.85 0.73, 0.9 0.62, 0.95 0.82, 1.0 0.7, 1.05 0.55, 1.1 0.8, 1.15 0.74, 1.2 0.64, 1.25 0.82, 1.3 0.72, 1.35 0.6, 1.4 0.8, 1.45 0.75, 1.5 0.66, 1.55 0.81, 1.6 0.73, 1.65 0.62, 1.7 0.8, 1.75 0.76, 1.8 0.68, 1.85 0.81, 1.9 0.74, 1.95 0.66, 2.0 0.8, 2.05 0.75, 2.1 0.7, 2.15 0.79, 2.2 0.73, 2.25 0.78, 2.3 0.74, 2.35 0.77, 2.42 0.78,
0.1 0.45, 0.2 0.35, 0.3 0.25, 0.4 0.38, 0.5 0.2, 0.6 0.4, 0.7 0.3, 0.8 0.45, 0.9 0.35, 1.0 0.5, 1.1 0.4, 1.2 0.5, 1.26 0.3, 1.11 0.21, 1.4 0.55, 1.6 0.55, 1.8 0.6, 2.0 0.65, 0.57 -0.15, 0.35 -0.21, 0.45 0.05, 0.25 0.0, 0.15 0.15, 0.05 0.3, 0.7 0.1, 0.9 0.15, 1.3 0.45,
-0.05 0.75, -0.1 0.5, -0.15 0.65, -0.2 0.3, -0.25 0.55, -0.3 0.72, -0.35 0.1, -0.4 0.45, -0.45 0.62, -0.5 -0.1, -0.55 0.3, -0.6 0.55, -0.65 0.7, -0.7 -0.3, -0.75 0.15, -0.8 0.42, -0.85 0.6, -0.9 -0.5, -0.95 -0.05, -1.0 0.3, -1.05 0.5, -1.1 -0.7, -1.15 -0.2, -1.2 0.15, -1.25 0.38, -1.3 -0.9, -1.35 -0.4, -1.4 0.0, -1.45 0.25, -1.5 -1.1, -1.55 -0.6, -1.6 -0.2, -1.65 0.1, 0.0 0.2, -0.05 -0.2, -0.1 0.0, -0.15 -0.4, -0.2 -0.1, -0.25 -0.55, -0.3 -0.3, -0.35 -0.8, -0.4 -0.5, -0.45 -1.0, -0.5 -0.7, -0.55 -1.2, -0.6 -0.4, -0.65 -0.95, -0.7 -1.4, -0.75 -0.7, -0.8 -1.1, -0.85 -0.2, -0.9 -1.3, -0.95 -0.85, -1.0 -1.6, -1.05 -0.3, -1.1 -1.2, -1.15 -0.9, -1.2 -1.5, -1.25 -0.6, -1.3 -1.3, -1.35 -1.7, -1.4 -0.8, -1.45 -1.5, -1.5 -0.3, -1.55 -1.3, -1.6 -0.8, -1.65 -1.6, -1.7 -0.5, -1.7 -1.0, -1.75 -0.2, -1.8 -0.7, -0.3 0.3, -0.6 0.1, -0.9 0.1, -1.2 -0.1, -0.45 0.2, -0.75 -0.1, -1.05 -0.05, -0.2 0.6, -0.5 0.4, -0.8 -0.5,
-2.28 -1.66, -2.14 -1.89, -2.07 -1.29, -2.1 -3.54, -2.05 -3.93, -1.98 -3.86, -2.17 -3.01, -2.05 -3.36, -1.6 -3.79, -1.34 -3.97, -1.1 -3.93, -1.09 -3.54, -0.54 -3.37, -0.35 -2.92, -0.12 -2.11, -0.31 -2.16, -0.62 -2.01, -0.22 -1.61, -0.31 -1.83, -0.91 -3.17, -1.48 -3.47, -1.88 -3.65, -1.51 0.37, -1.99 -0.3, -1.93 -0.5, -1.6 0.09, -0.96 0.59, -0.72 -1.35, -0.37 -1.07, -0.15 -0.75, 0.11 -0.61, 0.0 -0.53,
-2.0 -2.0, -2.05 -2.5, -1.95 -2.8, -2.1 -2.3, -1.9 -1.5, -1.85 -2.2, -1.8 -2.6, -1.85 -3.1, -1.75 -1.8, -1.7 -2.3, -1.65 -2.9, -1.6 -2.1, -1.55 -2.6, -1.5 -3.1, -1.45 -1.9, -1.4 -2.4, -1.35 -2.9, -1.3 -2.2, -1.25 -2.6, -1.2 -3.3, -1.15 -2.0, -1.1 -2.5, -1.05 -2.95, -1.0 -2.2, -0.95 -2.6, -0.9 -1.9, -0.85 -2.4, -0.8 -1.7, -0.75 -2.7, -0.7 -2.0, -0.65 -1.7, -0.6 -2.3, -0.55 -1.5, -1.9 -3.4, -1.7 -3.5, -1.6 -3.6, -1.4 -3.3, -1.25 -3.0, -1.15 -3.55, -1.95 -1.1, -1.85 -0.8, -2.0 -1.6, -1.75 -1.3, -1.55 -1.85, -1.25 -1.95, -1.05 -1.8, -0.5 -1.6, -0.45 -2.15, -2.2 -2.6, -2.15 -3.2, -1.3 -3.6, -1.0 -3.4, -1.75 -3.8, -1.45 -3.75,
-1.62 0.3, -1.55 -0.05, -1.48 0.4, -1.42 -0.45, -1.38 0.2, -1.32 -0.15, -1.28 0.5, -1.22 -0.35, -1.18 0.35, -1.12 -0.05, -1.08 0.45, -1.02 -0.5, -0.98 0.15, -0.92 -0.25, -0.88 0.5, -0.82 -0.05, -0.78 0.6, -0.72 0.25, -0.68 -0.1, -0.62 0.4, -0.58 -0.25, -0.52 0.55, -0.48 0.1, -0.42 0.7, -0.38 0.35, -0.32 -0.05, -0.28 0.5, -0.22 0.15, -0.18 0.7, -0.12 0.35, -0.08 0.62, -0.02 0.45, 0.03 0.7, -1.58 -0.9, -1.45 -0.75, -1.35 -1.1, -1.25 -0.85, -1.15 -1.25, -1.05 -0.95, -0.95 -1.1, -0.85 -0.75, -0.75 -1.0, -0.65 -0.6, -0.55 -0.85, -0.45 -0.4, -0.35 -0.55, -0.25 -0.25, -1.72 -0.75, -1.65 -1.2, -1.52 -1.45, -1.42 -1.25, -1.28 -1.6, -1.18 -1.8, -1.08 -1.45, -0.98 -1.3, -0.88 -1.6, -0.78 -1.35, -0.68 -1.15, -0.58 -1.0, -0.48 -1.3, -0.4 -0.85, -1.88 -1.3, -1.8 -1.9, -1.68 -2.05, -1.58 -2.35, -1.45 -2.2, -1.35 -2.05, -1.22 -2.3, -1.12 -2.15, -0.98 -2.45, -0.88 -2.15, -1.82 -2.4, -1.6 -2.75, -1.4 -2.65, -1.15 -2.8, -1.95 -2.2, -2.0 -2.75, -1.62 -3.3, -1.32 -3.2, -1.95 -3.15,
0.02 0.6, 0.08 0.55, 0.12 0.72, 0.18 0.48, 0.22 0.65, 0.28 0.4, 0.32 0.68, 0.38 0.55, 0.42 0.78, 0.48 0.62, 0.52 0.45, 0.58 0.7, 0.62 0.52, 0.68 0.78, 0.72 0.6, 0.78 0.7, 0.82 0.55, 0.88 0.78, 0.92 0.7, 0.98 0.6, 1.02 0.76, 1.08 0.68, 1.12 0.6, 1.18 0.78, 1.22 0.7, 1.28 0.62, 1.32 0.78, 1.38 0.7, 1.42 0.66, 1.48 0.79, 1.52 0.72, 1.58 0.68, 1.62 0.78, 1.68 0.72, 1.72 0.68, 1.78 0.8, 1.82 0.72, 1.88 0.7, 1.92 0.8, 1.98 0.74, 2.02 0.7, 2.08 0.78, 2.12 0.76, 2.18 0.72, 2.22 0.8, 2.28 0.76, 2.32 0.79, 2.38 0.75,
-1.6 0.45, -1.52 0.1, -1.47 -0.2, -1.43 0.5, -1.37 -0.6, -1.33 0.3, -1.27 0.0, -1.23 0.6, -1.17 -0.5, -1.13 0.25, -1.07 -0.2, -1.03 0.65, -0.97 -0.4, -0.93 0.3, -0.87 0.0, -0.83 0.68, -0.77 -0.35, -0.73 0.45, -0.67 0.15, -0.63 -0.55, -0.57 0.65, -0.53 0.2, -0.47 -0.25, -0.43 0.42, -0.37 0.72, -0.33 -0.4, -0.27 0.2, -0.23 0.45, -0.17 -0.05, -0.13 0.72, -0.07 0.25, -0.03 -0.35, -1.48 -1.25, -1.38 -0.95, -1.28 -1.15, -1.18 -0.7, -1.08 -0.95, -0.98 -0.65, -0.88 -0.9, -0.78 -0.6, -0.68 -0.75, -0.58 -0.5, -0.48 -0.6, -0.38 -0.25, -0.28 -0.75, -1.7 -1.4, -1.58 -1.7, -1.48 -1.95, -1.38 -1.5, -1.28 -1.85, -1.18 -1.3, -1.08 -1.65, -0.98 -1.95, -0.88 -1.4, -0.78 -1.85, -0.68 -1.6, -0.58 -1.35, -1.78 -1.0, -1.82 -1.6, -1.92 -2.0, -1.72 -2.5, -1.52 -2.45, -1.32 -2.45, -1.1 -2.3, -0.92 -2.8, -1.78 -3.25, -1.55 -3.0, -1.25 -3.4,
0.04 0.78, 0.14 0.68, 0.24 0.78, 0.34 0.62, 0.44 0.72, 0.54 0.6, 0.64 0.76, 0.74 0.66, 0.84 0.8, 0.94 0.72, 1.04 0.8, 1.14 0.68, 1.24 0.76, 1.34 0.82, 1.44 0.72, 1.54 0.76, 1.64 0.8, 1.74 0.73, 1.84 0.78, 1.94 0.76, 2.04 0.8, 2.14 0.74, 2.24 0.76, 2.34 0.8, 0.06 0.5, 0.26 0.5, 0.46 0.4, 0.66 0.45, 0.86 0.62, 1.06 0.65, 1.26 0.55, 1.46 0.62, 1.66 0.68, 1.86 0.66, 2.06 0.7, 2.26 0.72,
-1.5 0.0, -1.46 0.35, -1.4 -0.3, -1.34 0.1, -1.3 -0.5, -1.24 0.5, -1.2 -0.25, -1.14 0.05, -1.1 0.5, -1.04 -0.15, -1.0 0.1, -0.94 0.45, -0.9 -0.1, -0.84 0.25, -0.8 0.6, -0.74 -0.2, -0.7 0.3, -0.64 0.55, -0.6 -0.1, -0.54 0.42, -0.5 0.1, -0.44 0.6, -0.4 0.2, -0.34 0.5, -0.3 0.0, -0.24 0.35, -0.2 0.72, -0.14 0.1, -0.1 0.55, -0.04 0.72, -1.36 -0.75, -1.22 -0.6, -1.12 -0.85, -1.0 -0.8, -0.9 -0.7, -0.8 -0.85, -0.7 -0.55, -0.6 -0.75, -0.5 -0.45, -0.42 -0.7, -1.55 -0.45, -1.62 -0.55, -0.3 -0.15, -0.15 0.55, -1.44 -1.05, -1.3 -1.45, -1.16 -1.05, -1.04 -1.25, -0.94 -1.45, -0.84 -1.2, -0.74 -1.25, -0.62 -1.2`;

var denDeep = `-1.16 -3.95, -1.15 -3.8, -1.14 -3.65, -1.16 -3.5, -1.13 -3.35, -1.15 -3.2, -1.14 -3.05, -1.16 -2.9, -1.13 -2.75, -1.15 -2.6, -1.14 -2.45, -1.16 -2.3, -1.13 -2.15, -1.15 -2.0, -1.14 -1.85, -1.16 -1.7, -1.13 -1.55, -1.15 -1.4, -1.14 -1.25, -1.16 -1.1, -1.13 -0.95, -1.15 -0.8, -1.14 -0.65, -1.16 -0.5, -1.13 -0.35, -1.15 -0.2, -1.14 -0.05, -1.12 0.1, -1.1 0.25,
-1.1 -3.6, -1.09 -3.2, -1.1 -2.85, -1.08 -2.55, -1.1 -2.25, -1.07 -1.95, -1.09 -1.65, -1.06 -1.35, -1.08 -1.05, -1.05 -0.75, -1.07 -0.45, -1.04 -0.15, -1.05 0.15, -1.08 0.35,
-1.02 -3.0, -1.0 -2.6, -1.01 -2.2, -0.98 -1.8, -1.0 -1.5, -0.97 -1.2, -0.99 -0.9, -0.96 -0.6, -0.98 -0.3, -0.95 0.0, -0.97 0.25, -0.95 0.45,
-0.94 -2.1, -0.92 -1.6, -0.9 -1.3, -0.88 -1.0, -0.9 -0.7, -0.86 -0.4, -0.88 -0.15, -0.85 0.1, -0.87 0.35, -0.84 0.5, -0.93 -3.58, -0.85 -3.18, -0.95 -2.7,
-0.82 -1.5, -0.8 -0.9, -0.78 -0.55, -0.76 -0.25, -0.75 0.05, -0.74 0.3, -0.72 0.52, -0.7 -1.2, -0.68 -0.7, -0.66 -0.4, -0.64 -0.1, -0.62 0.15, -0.6 0.4, -0.58 0.58, -0.56 -1.45, -0.55 -0.85, -0.52 -0.5, -0.5 -0.2, -0.48 0.1, -0.46 0.35, -0.44 0.6, -0.42 -0.6, -0.4 -0.3, -0.38 0.0, -0.36 0.25, -0.34 0.5, -0.32 0.65, -0.32 -1.16, -0.39 -2.05, -0.64 -2.91, -0.66 -2.47, -0.77 -2.32, -0.41 -0.92, -0.46 -0.79, -0.33 -0.46, -0.7 -1.8, -0.75 -2.0, -0.6 -1.7, -0.8 -2.6, -0.65 -1.1,
-0.28 -0.2, -0.25 0.1, -0.22 0.35, -0.2 0.55, -0.18 0.68, -0.15 -0.1, -0.12 0.2, -0.1 0.45, -0.08 0.62, -0.05 0.72, -0.02 0.0, 0.0 0.3, 0.02 0.52, 0.05 0.68, 0.08 0.75, 0.1 0.1, 0.12 -0.28, 0.15 0.4, 0.18 0.6, 0.2 0.74, 0.25 0.25, 0.27 0.02, 0.3 0.5, 0.33 0.68, 0.36 0.78, 0.4 0.35, 0.45 0.58, 0.48 0.72, 0.5 0.14, 0.52 0.8, -0.2 -0.45, 0.0 -0.04, -0.1 -0.3,
0.55 0.3, 0.6 0.55, 0.62 0.74, 0.65 0.82, 0.7 0.45, 0.75 0.65, 0.8 0.78, 0.85 0.38, 0.9 0.6, 0.95 0.83, 1.0 0.72, 1.05 0.5, 1.1 0.66, 1.15 0.8, 1.2 0.58, 1.25 0.74, 1.29 0.44, 1.3 0.82, 1.35 0.65, 1.4 0.76, 1.45 0.55, 1.5 0.7, 1.55 0.81, 1.6 0.62, 1.65 0.75, 1.7 0.8, 1.75 0.66, 1.8 0.77, 1.85 0.7, 1.9 0.82, 1.95 0.64, 2.0 0.76, 2.05 0.72, 2.1 0.8, 2.2 0.7, 2.3 0.78, 2.4 0.74, 2.5 0.8, 2.6 0.73, 2.7 0.78, 2.78 0.65, 2.85 0.76, 2.95 0.8, 3.05 0.77, 3.15 0.79, 3.28 0.72, 3.36 0.78, 0.7 0.28, 0.9 0.25, 1.0 0.4, 0.4 0.58,
-1.0 0.4, -0.9 0.5, -0.8 0.55, -0.65 0.6, -0.5 0.65, -0.3 0.72, -0.95 0.3, -0.75 0.4, -1.05 -0.4, -1.0 -0.2, -0.92 -0.5, -0.85 -0.8, -1.03 -1.1, -0.95 -1.4,
-1.15 -3.88, -1.13 -3.72, -1.15 -3.58, -1.12 -3.42, -1.14 -3.28, -1.12 -3.12, -1.15 -2.98, -1.12 -2.82, -1.14 -2.68, -1.12 -2.52, -1.15 -2.38, -1.12 -2.22, -1.14 -2.08, -1.12 -1.92, -1.15 -1.78, -1.12 -1.62, -1.14 -1.48, -1.12 -1.32, -1.15 -1.18, -1.12 -1.02, -1.14 -0.88, -1.12 -0.72, -1.15 -0.58, -1.12 -0.42, -1.14 -0.28, -1.12 -0.12, -1.13 0.02, -1.11 0.18, -1.08 -3.0, -1.06 -2.7, -1.08 -2.4, -1.05 -2.1, -1.07 -1.8, -1.04 -1.5, -1.06 -1.2, -1.03 -0.9, -1.05 -0.6, -1.02 -0.3, -1.04 0.0, -1.02 0.28, -1.0 0.42, -0.98 -2.0, -0.96 -1.65, -0.98 -1.35, -0.95 -1.05, -0.97 -0.75, -0.94 -0.45, -0.96 -0.15, -0.93 0.12, -0.92 0.38, -0.9 -0.95, -0.88 -0.55, -0.86 -0.25, -0.84 -1.2, -0.82 0.22, -0.8 0.48, -0.78 -0.15, -0.76 0.35, -0.72 0.1, -0.7 -0.4, -0.68 0.45, -0.66 0.22, -0.62 -0.6, -0.6 0.05, -0.58 0.28, -0.55 0.5, -0.52 -0.1, -0.5 0.42, -0.48 0.25, -0.45 -0.3, -0.42 0.15, -0.4 0.55, -0.38 0.4, -0.35 -0.1, -0.3 0.3, -0.27 0.6, -0.24 0.45, -0.2 0.15, -0.16 0.6, -0.14 0.32, -0.1 0.7, -0.06 0.5, -0.03 0.6, 0.02 0.7, 0.06 0.45, 0.12 0.62, 0.16 0.72, 0.22 0.5, 0.26 0.7, 0.32 0.58, 0.38 0.72, 0.42 0.48, 0.46 0.78, 0.56 0.62, 0.64 0.7, 0.72 0.8, 0.78 0.6, 0.88 0.75, 0.98 0.66, 1.08 0.78, 1.18 0.7, 1.32 0.76, 1.42 0.68, 1.58 0.76, 1.72 0.72, 1.88 0.78, 2.02 0.8, 2.15 0.76, 2.25 0.8, 2.35 0.78, 2.45 0.77, 2.55 0.78, 2.65 0.8, 2.8 0.79, 2.9 0.78, 3.0 0.8, 3.1 0.8, 3.2 0.79, -0.9 -1.9, -0.8 -1.7, -0.72 -1.45, -0.62 -1.25, -0.55 -1.05, -0.5 -0.7, -0.88 -2.2, -0.98 -2.4, -1.05 -3.3,
-1.16 -3.75, -1.16 -3.3, -1.16 -2.85, -1.16 -2.4, -1.16 -1.95, -1.16 -1.5, -1.16 -1.05, -1.16 -0.6, -1.16 -0.15, -1.11 -3.45, -1.11 -3.0, -1.11 -2.55, -1.11 -2.1, -1.11 -1.65, -1.11 -1.2, -1.11 -0.75, -1.11 -0.3, -1.11 0.05, -1.06 -2.95, -1.06 -2.5, -1.06 -2.05, -1.06 -1.6, -1.06 -1.15, -1.06 -0.7, -1.06 -0.25, -1.06 0.3, -1.01 -2.4, -1.01 -1.95, -1.01 -1.55, -1.01 -1.1, -1.01 -0.7, -1.01 -0.3, -1.01 0.15, -0.96 -1.85, -0.96 -1.45, -0.96 -0.95, -0.96 -0.5, -0.96 -0.05, -0.96 0.4, -0.91 -1.1, -0.91 -0.3, -0.91 0.25, -0.86 -0.65, -0.86 0.0, -0.86 0.45, -0.81 -0.35, -0.81 0.3, -0.77 0.05, -0.73 -0.6, -0.71 0.4, -0.67 0.0, -0.63 0.5, -0.59 -0.2, -0.57 0.15, -0.53 0.55, -0.49 0.3, -0.45 0.6, -0.41 0.45, -0.37 0.6, -0.33 0.2, -0.29 0.55, -0.26 0.4, -0.23 0.65, -0.19 0.45, -0.13 0.68, -0.09 0.55, -0.04 0.4, 0.01 0.62, 0.07 0.7, 0.11 0.55, 0.17 0.66, 0.23 0.72, 0.29 0.62, 0.35 0.55, 0.41 0.74, 0.5 0.68, 0.58 0.74, 0.68 0.72, 0.76 0.76, 0.86 0.7, 0.96 0.78, 1.06 0.74, 1.16 0.76, 1.26 0.8, 1.36 0.74, 1.46 0.78, 1.56 0.74, 1.66 0.78, 1.78 0.74, 1.92 0.76, 2.08 0.76, 2.22 0.78, 2.38 0.8, 2.58 0.8, 2.75 0.8, 2.92 0.8, 3.08 0.78, 3.25 0.8, 0.3 0.35, 0.45 0.4, 0.6 0.45, 0.8 0.55, 1.0 0.58, 1.2 0.65, 1.4 0.6, 1.65 0.68, 1.9 0.7, 2.15 0.72, 2.45 0.72, 2.65 0.74,
-1.09 0.3, -1.04 0.4, -0.99 0.45, -0.94 0.5, -0.89 0.35, -0.84 0.55, -0.79 0.42, -0.74 0.58, -0.69 0.5, -0.64 0.35, -0.59 0.62, -0.54 0.4, -0.49 0.6, -0.44 0.5, -0.39 0.66, -0.34 0.35, -0.29 0.65, -0.24 0.55, -0.19 0.68, -0.14 0.5, -0.09 0.62, -0.04 0.7, 0.04 0.58, 0.09 0.72, 0.14 0.5, 0.19 0.68, 0.24 0.62, 0.29 0.76, 0.34 0.65, 0.39 0.6, 0.44 0.7, 0.54 0.72, 0.62 0.66, 0.7 0.76, 0.82 0.7, 0.92 0.8, 1.02 0.76, 1.12 0.72, 1.22 0.78, 1.34 0.78, 1.52 0.78, 1.62 0.72, 1.82 0.76, 1.98 0.78, 2.12 0.8, 2.32 0.8, 2.52 0.76, 2.72 0.8, -1.13 -3.6, -1.14 -2.95, -1.13 -2.3, -1.14 -1.7, -1.13 -1.1, -1.14 -0.5, -1.13 0.1`;

var disDeep = `-0.85 0.5, -0.8 0.35, -0.75 0.55, -0.7 0.2, -0.65 0.45, -0.6 0.6, -0.55 0.3, -0.5 0.5, -0.45 0.62, -0.4 0.2, -0.35 0.45, -0.3 0.64, -0.25 0.1, -0.2 0.38, -0.15 0.6, -0.1 0.66, -0.05 0.0, 0.0 0.3, 0.05 0.55, 0.1 0.7, 0.15 0.15, 0.2 0.42, 0.25 0.62, 0.3 0.72, 0.35 0.25, 0.4 0.5, 0.45 0.68, 0.5 0.75, 0.55 0.35, 0.6 0.58, 0.65 0.72, 0.7 0.77, 0.76 0.32, 0.8 0.55, 0.85 0.7, 0.9 0.78, 0.95 0.45, 1.0 0.62, 1.05 0.74, 1.1 0.8, 1.15 0.52, 1.2 0.68, 1.25 0.77, 1.3 0.58, 1.35 0.72, 1.4 0.8, 1.45 0.56, 1.5 0.7, 1.55 0.78, 1.6 0.64, 1.65 0.74, 1.7 0.81, 1.75 0.68, 1.8 0.76, 1.85 0.82, 1.9 0.7, 1.95 0.78, 2.0 0.74, 2.05 0.81, 2.1 0.73, 2.15 0.79, 2.2 0.76, 2.25 0.82, 2.3 0.78, 2.35 0.8, 2.4 0.78, 2.45 0.82, 2.5 0.8, 2.58 0.8, 2.65 0.82, 2.74 0.83, 0.85 0.28, 0.71 0.19, 0.33 -0.12, 0.26 -0.21, 0.5 0.12, 0.6 0.25, 0.4 0.05, 1.2 0.5, 0.3 0.45,
-1.5 0.2, -1.45 -0.3, -1.4 0.05, -1.35 -0.7, -1.3 0.3, -1.25 -0.2, -1.2 -1.0, -1.15 0.1, -1.1 -0.5, -1.05 0.4, -1.0 -0.9, -0.95 0.0, -0.9 -0.35, -0.85 -1.1, -0.8 0.1, -0.75 -0.6, -0.7 -0.1, -0.65 -1.2, -0.6 -0.4, -0.55 0.0, -0.5 -0.8, -0.45 -0.25, -0.4 -0.55, -0.35 0.05, -0.3 -0.35, -0.25 -0.15, -0.2 -0.05, -1.48 -0.9, -1.42 -1.2, -1.38 -0.1, -1.32 -1.5, -1.28 -0.45, -1.22 0.45, -1.18 -1.3, -1.12 -0.15, -1.08 -0.75, -1.02 0.15, -0.98 -1.4, -0.92 -0.6, -0.88 0.3, -0.82 -0.3, -0.78 -0.95, -0.72 0.3, -0.68 -0.75, -0.62 -0.2, -0.58 -0.6, -0.52 0.2, -0.48 -0.45, -0.42 -0.1, -0.38 -0.75, -0.32 -0.5, -1.3 0.1, -1.1 0.25, -0.9 0.2, -0.7 0.45, -1.0 -0.3, -0.8 -0.45, -0.6 0.3, -1.2 -0.55, -0.5 0.4,
-2.22 -1.66, -2.04 -1.89, -1.99 -1.3, -2.04 -3.09, -1.88 -3.93, -1.75 -3.85, -1.16 -3.96, -0.84 -3.93, -0.51 -3.38, -0.4 -2.93, -0.1 -2.12, -0.3 -2.16, -0.45 -2.16, -0.56 -2.12, -0.24 -1.63, 0.08 -0.57, -0.01 -0.7, -1.87 -0.22, -1.86 -0.32, -1.42 0.36, -1.9 -0.48, -1.83 -0.83,
-1.95 -2.0, -1.9 -2.5, -1.85 -2.8, -1.97 -2.3, -1.8 -1.5, -1.75 -2.2, -1.7 -2.6, -1.78 -3.1, -1.7 -1.8, -1.65 -2.35, -1.6 -2.95, -1.55 -2.1, -1.5 -2.6, -1.45 -3.15, -1.4 -1.9, -1.35 -2.4, -1.3 -2.9, -1.25 -2.2, -1.2 -2.65, -1.15 -3.3, -1.1 -2.0, -1.05 -2.5, -1.0 -2.95, -0.95 -2.2, -0.9 -2.6, -0.85 -1.9, -0.8 -2.4, -0.75 -1.7, -0.7 -2.75, -0.65 -2.0, -0.6 -1.7, -0.55 -2.5, -0.5 -1.5, -1.85 -3.4, -1.65 -3.55, -1.55 -3.65, -1.35 -3.3, -1.22 -3.05, -1.1 -3.55, -1.9 -1.1, -1.8 -0.8, -1.95 -1.6, -1.7 -1.3, -1.5 -1.85, -1.25 -1.95, -1.05 -1.8, -0.45 -1.6, -0.35 -1.2, -0.3 -0.9, -0.2 -0.6, -0.15 -1.0, -1.6 -1.4, -1.45 -1.6, -1.3 -1.75, -1.15 -1.55, -0.95 -1.65, -0.75 -1.4, -0.6 -1.3, -1.6 -0.4, -1.55 -1.0, -1.65 -0.7, -1.4 -3.75, -1.0 -3.5, -0.7 -3.2, -1.2 -3.8,
-1.52 -0.45, -1.46 0.1, -1.41 -0.6, -1.36 0.25, -1.33 -0.3, -1.27 0.05, -1.23 -0.8, -1.17 0.3, -1.13 -0.35, -1.07 -0.1, -1.03 -0.65, -0.97 0.35, -0.93 -0.15, -0.87 -0.5, -0.83 0.4, -0.77 -0.2, -0.73 0.1, -0.67 -0.45, -0.63 0.4, -0.57 -0.15, -0.53 -0.4, -0.47 0.25, -0.43 0.45, -0.37 -0.3, -0.33 0.15, -0.27 -0.55, -0.23 0.35, -0.17 -0.3, -0.13 0.2, -0.08 -0.1, -0.02 0.45, 0.03 0.1, -1.55 -1.25, -1.45 -1.0, -1.35 -1.3, -1.25 -1.05, -1.15 -0.8, -1.05 -1.15, -0.95 -0.75, -0.85 -0.85, -0.75 -1.1, -0.65 -0.9, -0.55 -0.65, -0.45 -0.75, -0.35 -0.95, -1.62 -1.75, -1.52 -1.55, -1.4 -1.45, -1.28 -1.25, -1.2 -1.6, -1.1 -1.35, -1.0 -1.2, -0.9 -1.3, -0.8 -1.6, -0.7 -1.25, -0.62 -1.55, -0.52 -1.2, -1.75 -2.5, -1.68 -2.0, -1.58 -2.45, -1.48 -2.25, -1.38 -2.75, -1.28 -2.45, -1.18 -2.1, -1.08 -2.3, -0.98 -2.6, -0.88 -2.35, -0.78 -2.05, -0.68 -2.4, -1.82 -2.95, -1.62 -3.15, -1.42 -2.95, -1.22 -3.35, -1.8 -3.65, -1.5 -3.4, -1.28 -3.7, -0.92 -3.3, -0.8 -2.8, -0.6 -2.9,
-0.82 0.55, -0.72 0.5, -0.62 0.55, -0.52 0.62, -0.42 0.55, -0.32 0.55, -0.22 0.62, -0.12 0.5, -0.02 0.62, 0.08 0.62, 0.12 0.45, 0.18 0.65, 0.22 0.3, 0.28 0.55, 0.38 0.65, 0.42 0.35, 0.48 0.62, 0.58 0.7, 0.62 0.45, 0.68 0.65, 0.78 0.72, 0.82 0.6, 0.88 0.5, 0.98 0.72, 1.02 0.55, 1.08 0.68, 1.18 0.74, 1.22 0.62, 1.28 0.72, 1.38 0.76, 1.42 0.65, 1.48 0.74, 1.58 0.72, 1.62 0.78, 1.68 0.72, 1.78 0.8, 1.88 0.76, 1.98 0.8, 2.08 0.78, 2.18 0.8, 2.28 0.8, 2.38 0.81, 2.48 0.81, 2.55 0.82,
-1.56 -0.15, -1.5 -0.55, -1.44 0.3, -1.38 -0.35, -1.34 0.4, -1.3 -0.9, -1.26 0.2, -1.22 -0.15, -1.19 -0.7, -1.16 0.45, -1.12 -0.45, -1.09 0.05, -1.06 -0.95, -1.03 0.5, -0.99 -0.55, -0.96 0.25, -0.93 -1.0, -0.89 -0.1, -0.86 0.5, -0.83 -0.7, -0.79 0.25, -0.76 -0.4, -0.73 0.55, -0.69 -0.95, -0.66 0.1, -0.63 -0.3, -0.59 0.55, -0.56 -0.75, -0.53 0.1, -0.49 -0.2, -0.46 0.55, -0.43 -0.65, -0.39 0.3, -0.36 -0.05, -0.33 -0.4, -0.29 0.5, -0.26 0.2, -0.22 -0.2, -0.19 0.55, -0.16 0.05, -0.11 0.35, -0.07 0.6, -0.04 0.2, 0.02 0.55, 0.06 0.35, -1.42 -1.7, -1.32 -1.15, -1.22 -1.45, -1.12 -1.0, -1.02 -1.45, -0.92 -1.05, -0.82 -1.35, -0.72 -0.95, -0.62 -1.1, -0.52 -0.95, -0.42 -1.05, -0.3 -0.7, -1.7 -2.15, -1.6 -2.6, -1.5 -2.05, -1.4 -2.5, -1.3 -2.1, -1.2 -2.9, -1.1 -2.6, -1.0 -2.35, -0.9 -2.1, -0.8 -2.15, -0.7 -1.9, -1.88 -2.6, -1.72 -3.0, -1.52 -2.85, -1.32 -3.05, -1.02 -3.15,
0.04 0.6, 0.14 0.68, 0.24 0.5, 0.34 0.62, 0.44 0.72, 0.54 0.55, 0.64 0.62, 0.74 0.7, 0.84 0.78, 0.94 0.66, 1.04 0.68, 1.14 0.78, 1.24 0.7, 1.34 0.66, 1.44 0.78, 1.54 0.74, 1.64 0.8, 1.74 0.76, 1.84 0.78, 1.94 0.82, 2.04 0.78, 2.14 0.82, 2.24 0.8, 2.34 0.82, 2.44 0.8, 2.6 0.83, 0.52 0.45, 0.72 0.5, 0.92 0.6, 1.12 0.62, 1.32 0.7, 1.52 0.68, 1.72 0.75, 1.92 0.75, 2.12 0.78, 2.32 0.79,
-1.48 0.05, -1.43 -0.2, -1.37 0.15, -1.31 -0.55, -1.27 -0.05, -1.21 0.3, -1.17 -0.45, -1.11 0.15, -1.07 -0.3, -1.01 -0.05, -0.97 -0.5, -0.91 0.1, -0.87 -0.25, -0.81 -0.6, -0.77 0.45, -0.71 -0.35, -0.67 0.25, -0.61 -0.6, -0.57 0.3, -0.51 0.0, -0.47 -0.55, -0.41 0.2, -0.37 0.55, -0.31 -0.1, -0.27 0.4, -0.21 0.05, -0.17 -0.45, -0.11 0.55, -0.07 -0.05, 0.0 0.45, -1.45 -0.7, -1.35 -0.95, -1.25 -0.6, -1.15 -1.1, -1.05 -0.8, -0.95 -0.45, -0.85 -0.3, -0.75 -0.85, -0.65 -0.6, -0.55 -0.4, -0.45 -0.95, -0.35 -0.6, -0.25 -0.3, -0.15 0.25, -1.58 -0.3, -1.62 -0.9, -1.52 -1.2, -1.38 -1.6, -1.26 -1.4, -1.14 -1.75, -1.02 -1.65, -0.9 -1.55, -0.78 -1.15, -0.66 -1.4, -0.54 -1.35`;

var FONT = "'Liberation Sans', Arial, Helvetica, sans-serif";
var W = 1889, H = 1889;
var padLeft = 129, padTop = 93, size = 398, gap = 25;
function px(i) { return padLeft + i * (size + gap); }
function py(j) { return padTop + j * (size + gap); }

function parsePts(s) {
    return s.trim().split(/\s*,\s*/).map(function (p) {
        var a = p.trim().split(/\s+/);
        return [+a[0], +a[1]];
    });
}

var scatter = [
    { row: 1, col: 0, pts: parsePts(simDen) },
    { row: 2, col: 0, pts: parsePts(simDis) },
    { row: 2, col: 1, pts: parsePts(denDis) },
    { row: 3, col: 0, pts: parsePts(simDeep) },
    { row: 3, col: 1, pts: parsePts(denDeep) },
    { row: 3, col: 2, pts: parsePts(disDeep) }
];
var dens = [densSim, densDen, densDis, densDeep];

// data range of every variable, as ggplot takes it, plus 5% on each side
var ext = vars.map(function () { return [Infinity, -Infinity]; });
function grow(k, v) { if (v < ext[k][0]) ext[k][0] = v; if (v > ext[k][1]) ext[k][1] = v; }
scatter.forEach(function (p) { p.pts.forEach(function (d) { grow(p.col, d[0]); grow(p.row, d[1]); }); });
dens.forEach(function (dd, k) { dd.forEach(function (d) { grow(k, d[0]); }); });
function expand(e) { var r = e[1] - e[0]; return [e[0] - 0.05 * r, e[1] + 0.05 * r]; }

var xs = vars.map(function (v, i) { return d3.scaleLinear().domain(expand(ext[i])).range([px(i), px(i) + size]); });
var ys = vars.map(function (v, j) { return d3.scaleLinear().domain(expand(ext[j])).range([py(j) + size, py(j)]); });

function majors(sc) { var d = sc.domain(); return d3.range(Math.ceil(d[0]), Math.floor(d[1]) + 1); }
function minors(sc) {
    var d = sc.domain();
    return d3.range(Math.floor(d[0]), Math.ceil(d[1]) + 1).map(function (k) { return k + 0.5; })
        .filter(function (v) { return v > d[0] && v < d[1]; });
}

var svg = d3.select("body").append("svg")
    .attr("width", W).attr("height", H)
    .style("background", "#fff");
svg.append("rect").attr("width", W).attr("height", H).attr("fill", "#fff");

var defs = svg.append("defs");

// lower triangle: scatter plots
scatter.forEach(function (p, n) {
    var x = xs[p.col], y = ys[p.row];
    var x0 = px(p.col), y0 = py(p.row);
    defs.append("clipPath").attr("id", "clip" + n)
        .append("rect").attr("x", x0).attr("y", y0).attr("width", size).attr("height", size);
    var g = svg.append("g").attr("clip-path", "url(#clip" + n + ")");

    g.selectAll(".vmin").data(minors(x)).enter().append("line")
        .attr("x1", x).attr("x2", x).attr("y1", y0).attr("y2", y0 + size)
        .attr("stroke", "#ebebeb").attr("stroke-width", 1.4);
    g.selectAll(".hmin").data(minors(y)).enter().append("line")
        .attr("y1", y).attr("y2", y).attr("x1", x0).attr("x2", x0 + size)
        .attr("stroke", "#ebebeb").attr("stroke-width", 1.4);
    g.selectAll(".vmaj").data(majors(x)).enter().append("line")
        .attr("x1", x).attr("x2", x).attr("y1", y0).attr("y2", y0 + size)
        .attr("stroke", "#ebebeb").attr("stroke-width", 2.8);
    g.selectAll(".hmaj").data(majors(y)).enter().append("line")
        .attr("y1", y).attr("y2", y).attr("x1", x0).attr("x2", x0 + size)
        .attr("stroke", "#ebebeb").attr("stroke-width", 2.8);

    g.selectAll("circle").data(p.pts).enter().append("circle")
        .attr("cx", function (d) { return x(d[0]); })
        .attr("cy", function (d) { return y(d[1]); })
        .attr("r", 3.7)
        .attr("fill", "#444444");

    // reference lines at zero
    g.append("line")
        .attr("x1", x0).attr("x2", x0 + size).attr("y1", y(0)).attr("y2", y(0))
        .attr("stroke", "#000").attr("stroke-width", 4).attr("stroke-dasharray", "18,14");
    g.append("line")
        .attr("x1", x(0)).attr("x2", x(0)).attr("y1", y0 + size).attr("y2", y0)
        .attr("stroke", "#000").attr("stroke-width", 4).attr("stroke-dasharray", "18,14");

    svg.append("rect").attr("x", x0).attr("y", y0).attr("width", size).attr("height", size)
        .attr("fill", "none").attr("stroke", "#333333").attr("stroke-width", 2);
});

// diagonal: densities
dens.forEach(function (dd, k) {
    var x = xs[k];
    var e = d3.extent(dd, function (d) { return d[1]; });
    var yd = d3.scaleLinear().domain(expand(e)).range([py(k) + size, py(k)]);
    svg.append("path")
        .datum(dd)
        .attr("fill", "none")
        .attr("stroke", "#000")
        .attr("stroke-width", 6.5)
        .attr("stroke-linejoin", "round")
        .attr("d", d3.line()
            .x(function (d) { return x(d[0]); })
            .y(function (d) { return yd(d[1]); })
            .curve(d3.curveCatmullRom.alpha(0.5)));
});
// bottom rule under the last density
svg.append("line")
    .attr("x1", px(3)).attr("x2", px(3) + size)
    .attr("y1", py(3) + size - 1).attr("y2", py(3) + size - 1)
    .attr("stroke", "#000").attr("stroke-width", 3.5);

// upper triangle: correlations
corrVal.forEach(function (r, n) {
    var cx = px(corrCol[n]) + size / 2, cy = py(corrRow[n]) + size / 2;
    var t = svg.append("g").attr("font-family", FONT).attr("font-size", 45)
        .attr("fill", "#7f7f7f").attr("text-anchor", "middle");
    t.append("text").attr("x", cx).attr("y", cy - 15).text("Corr:");
    t.append("text").attr("x", cx).attr("y", cy + 50).text(r.toFixed(3));
});

// strips
vars.forEach(function (v, i) {
    svg.append("rect").attr("x", px(i)).attr("y", 24).attr("width", size).attr("height", 67)
        .attr("fill", "#d9d9d9").attr("stroke", "#333333").attr("stroke-width", 2);
    svg.append("text").attr("x", px(i) + size / 2).attr("y", 70)
        .attr("text-anchor", "middle").attr("font-family", FONT).attr("font-size", 35)
        .attr("fill", "#1a1a1a").text(v);

    var sx = 1798, sy = py(i);
    svg.append("rect").attr("x", sx).attr("y", sy).attr("width", 67).attr("height", size)
        .attr("fill", "#d9d9d9").attr("stroke", "#333333").attr("stroke-width", 2);
    svg.append("text")
        .attr("transform", "translate(" + (sx + 33.5 - 12.5) + "," + (sy + size / 2) + ") rotate(90)")
        .attr("text-anchor", "middle").attr("font-family", FONT).attr("font-size", 35)
        .attr("fill", "#1a1a1a").text(v);
});

// axes
function styleAxis(g) {
    g.attr("font-family", FONT).attr("font-size", 34);
    g.select(".domain").remove();
    g.selectAll(".tick line").attr("stroke", "#333333").attr("stroke-width", 2.6);
    g.selectAll(".tick text").attr("fill", "#4d4d4d");
}
vars.forEach(function (v, i) {
    svg.append("g")
        .attr("transform", "translate(0," + (py(3) + size) + ")")
        .call(d3.axisBottom(xs[i]).tickValues(majors(xs[i])).tickSize(11).tickPadding(9)
            .tickFormat(function (d) { return String(d); }))
        .call(styleAxis);
    if (i > 0) {
        svg.append("g")
            .attr("transform", "translate(" + px(0) + ",0)")
            .call(d3.axisLeft(ys[i]).tickValues(majors(ys[i])).tickSize(11).tickPadding(11)
                .tickFormat(function (d) { return String(d); }))
            .call(styleAxis);
    }
});

// axis titles
svg.append("text")
    .attr("x", (px(0) + px(3) + size) / 2).attr("y", 1866)
    .attr("text-anchor", "middle").attr("font-family", FONT).attr("font-size", 46)
    .attr("fill", "#000").text("mainstreamness");
svg.append("text")
    .attr("transform", "translate(57," + (py(0) + py(3) + size) / 2 + ") rotate(-90)")
    .attr("text-anchor", "middle").attr("font-family", FONT).attr("font-size", 46)
    .attr("fill", "#000").text("mainstreamness");
</script>
</body>
</html>
